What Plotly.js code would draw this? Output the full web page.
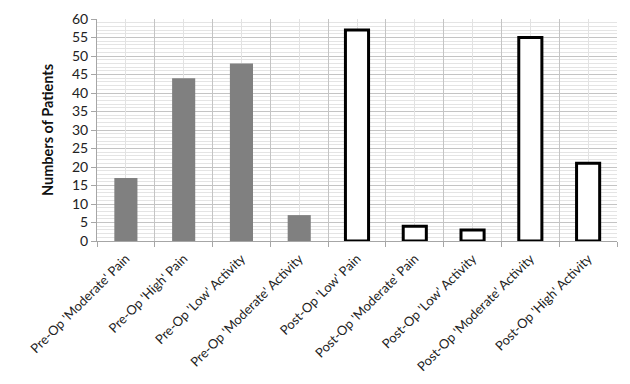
<!DOCTYPE html>
<html>
<head>
<meta charset="utf-8">
<script src="https://cdn.plot.ly/plotly-3.0.1.min.js"></script>
<style>html,body{margin:0;padding:0;background:#fff;}#chart{width:630px;height:384px;}</style>
</head>
<body>
<div id="chart"></div>
<script>
var categories = [
  "Pre-Op 'Moderate' Pain",
  "Pre-Op 'High' Pain",
  "Pre-Op 'Low' Activity",
  "Pre-Op 'Moderate' Activity",
  "Post-Op 'Low' Pain",
  "Post-Op 'Moderate' Pain",
  "Post-Op 'Low' Activity",
  "Post-Op 'Moderate' Activity",
  "Post-Op 'High' Activity"
];
var patients = [17, 44, 48, 7, 57, 4, 3, 55, 21];
var phase = ["pre","pre","pre","pre","post","post","post","post","post"];

var fillColors = phase.map(function(p){ return p === "pre" ? "#808080" : "#ffffff"; });
var lineWidths = phase.map(function(p){ return p === "pre" ? 0 : 3; });

var font = "Lato, 'Open Sans', 'Liberation Sans', sans-serif";

var traces = [
  {
    type: "bar",
    x: categories,
    y: patients,
    marker: { color: fillColors, line: { color: "#000000", width: lineWidths } },
    hoverinfo: "x+y",
    showlegend: false
  },
  {
    type: "scatter",
    mode: "none",
    x: categories,
    y: patients,
    xaxis: "x2",
    hoverinfo: "skip",
    showlegend: false
  }
];

var layout = {
  width: 630,
  height: 384,
  margin: { l: 97, r: 13, t: 19, b: 143 },
  paper_bgcolor: "#ffffff",
  plot_bgcolor: "#ffffff",
  bargap: 0.6,
  font: { family: font, size: 12, color: "#222222" },
  xaxis: {
    type: "category",
    tickson: "boundaries",
    showgrid: true,
    gridcolor: "#c4c4c4",
    gridwidth: 1,
    ticks: "outside",
    ticklen: 5,
    tickcolor: "#a6a6a6",
    tickangle: -45,
    ticklabelstandoff: 4,
    showline: true,
    linecolor: "#a6a6a6",
    linewidth: 1,
    tickfont: { family: font, size: 13, color: "#222222" },
    zeroline: false
  },
  xaxis2: {
    type: "category",
    overlaying: "x",
    matches: "x",
    showgrid: true,
    gridcolor: "#e2e2e2",
    gridwidth: 1,
    showticklabels: false,
    ticks: "",
    showline: false,
    zeroline: false
  },
  yaxis: {
    range: [0, 60],
    dtick: 5,
    tick0: 0,
    showgrid: true,
    gridcolor: "#c4c4c4",
    gridwidth: 1,
    ticks: "outside",
    ticklen: 5,
    tickcolor: "#a6a6a6",
    showline: true,
    linecolor: "#a6a6a6",
    linewidth: 1,
    zeroline: false,
    tickfont: { family: font, size: 14, color: "#222222" },
    minor: { dtick: 1, showgrid: true, gridcolor: "#e4e4e4", gridwidth: 1 },
    title: { text: "<b>Numbers of Patients</b>", font: { family: font, size: 14.5, color: "#111111" }, standoff: 14 }
  }
};

Plotly.newPlot("chart", traces, layout, { displayModeBar: false, staticPlot: true });
</script>
</body>
</html>
